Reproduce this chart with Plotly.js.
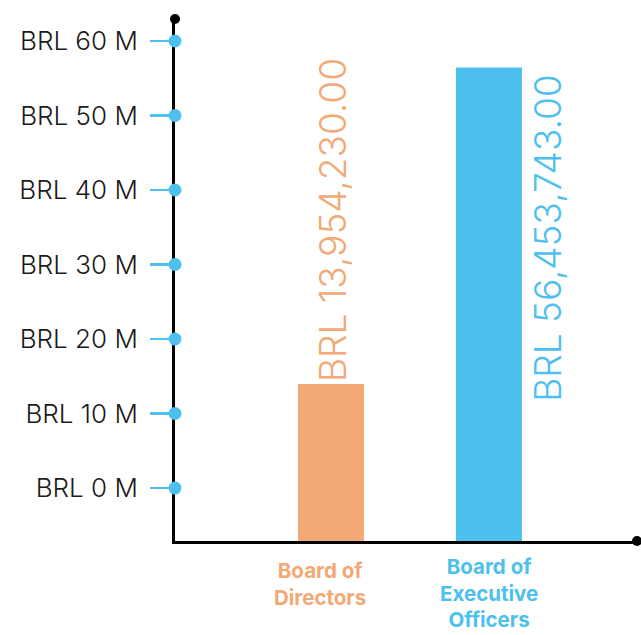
<!DOCTYPE html>
<html>
<head>
<meta charset="utf-8">
<script src="https://cdn.plot.ly/plotly-3.0.1.min.js"></script>
<style>html,body{margin:0;padding:0;background:#fff;}#chart{width:641px;height:635px;}</style>
</head>
<body>
<div id="chart"></div>
<script>
// Data
const categories = ["Board of Directors", "Board of Executive Officers"];
const categoryLabels = ["Board of<br>Directors", "Board of<br>Executive<br>Officers"];
const values = [13954230, 56453743];
const valueLabels = ["BRL 13,954,230.00", "BRL 56,453,743.00"];
const tickValues = [0, 10e6, 20e6, 30e6, 40e6, 50e6, 60e6];
const tickLabels = ["BRL 0 M", "BRL 10 M", "BRL 20 M", "BRL 30 M", "BRL 40 M", "BRL 50 M", "BRL 60 M"];

const colors = ["#F2A975", "#4DC0EE"];
const yMin = -7.11e6, yMax = 62.95e6;

const bar = {
  type: "bar",
  x: categories,
  y: values.map(v => v - yMin),
  base: yMin,
  width: 0.418,
  marker: {color: colors},
  hoverinfo: "skip"
};

const shapes = [];
tickValues.forEach(v => {
  shapes.push({type: "circle", xref: "paper", yref: "y", xsizemode: "pixel", ysizemode: "pixel",
    xanchor: 0, yanchor: v, x0: -6.5, x1: 6.5, y0: -6.5, y1: 6.5,
    fillcolor: "#4DC0EE", line: {width: 0}, layer: "above"});
});
// axis end dots
shapes.push({type: "circle", xref: "paper", yref: "paper", xsizemode: "pixel", ysizemode: "pixel",
  xanchor: 0, yanchor: 1, x0: -5, x1: 5, y0: -5, y1: 5, fillcolor: "#000", line: {width: 0}});
shapes.push({type: "circle", xref: "paper", yref: "paper", xsizemode: "pixel", ysizemode: "pixel",
  xanchor: 1, yanchor: 0, x0: -5, x1: 5, y0: -5, y1: 5, fillcolor: "#000", line: {width: 0}});

const annotations = [
  {x: categories[0], y: values[0], xref: "x", yref: "y", text: valueLabels[0], textangle: -90,
   xanchor: "center", yanchor: "bottom", xshift: 1, yshift: 0, showarrow: false,
   font: {family: "Inter, Lato, sans-serif", size: 37, color: colors[0], weight: 300}},
  {x: categories[1], y: values[1], xref: "x", yref: "y", text: valueLabels[1], textangle: -90,
   xanchor: "left", yanchor: "top", xshift: 34, yshift: -4, showarrow: false,
   font: {family: "Inter, Lato, sans-serif", size: 37, color: colors[1], weight: 300}},
  {x: categories[0], y: 0, xref: "x", yref: "paper", text: categoryLabels[0], xanchor: "center", yanchor: "top",
   xshift: -11, yshift: -16, showarrow: false, align: "center", borderpad: 0,
   font: {family: "Inter, Lato, sans-serif", size: 20.5, color: colors[0], weight: 700}},
  {x: categories[1], y: 0, xref: "x", yref: "paper", text: categoryLabels[1], xanchor: "center", yanchor: "top",
   xshift: 0, yshift: -12, showarrow: false, align: "center", borderpad: 0,
   font: {family: "Inter, Lato, sans-serif", size: 20.5, color: colors[1], weight: 700}}
];

const layout = {
  width: 641, height: 635,
  margin: {l: 175, r: 4, t: 19, b: 94, pad: 0},
  paper_bgcolor: "#fff", plot_bgcolor: "#fff",
  showlegend: false,
  xaxis: {range: [-0.987, 1.937], showgrid: false, zeroline: false, showticklabels: false,
    ticks: "", showline: true, linecolor: "#000", linewidth: 3, fixedrange: true},
  yaxis: {range: [yMin, yMax], showgrid: false, zeroline: false, showline: true, linecolor: "#000", linewidth: 3,
    tickvals: tickValues, ticktext: tickLabels, ticks: "outside", ticklen: 22, tickwidth: 2.5, tickcolor: "#4DC0EE",
    ticklabelstandoff: 7,
    tickfont: {family: "Inter, Lato, sans-serif", size: 26, color: "#1a1a1a", weight: 300}, fixedrange: true},
  shapes: shapes,
  annotations: annotations
};

Plotly.newPlot("chart", [bar], layout, {displayModeBar: false, staticPlot: true});
</script>
</body>
</html>
